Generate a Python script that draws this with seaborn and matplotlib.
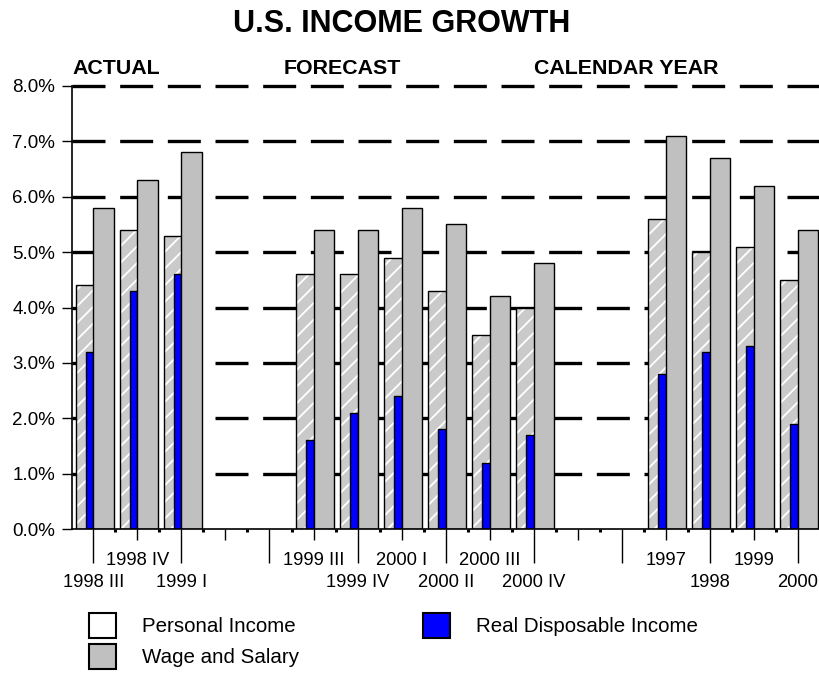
import numpy as np
import pandas as pd
import matplotlib
matplotlib.use("Agg")
import matplotlib.pyplot as plt
import seaborn as sns
from matplotlib.patches import Patch

# ---------------- data ----------------
actual_periods = ["1998 III", "1998 IV", "1999 I"]
forecast_periods = ["1999 III", "1999 IV", "2000 I", "2000 II", "2000 III", "2000 IV"]
calendar_years = ["1997", "1998", "1999", "2000"]
section_titles = ["ACTUAL", "FORECAST", "CALENDAR YEAR"]

personal_income = [4.4, 5.4, 5.3, 4.6, 4.6, 4.9, 4.3, 3.5, 4.0, 5.6, 5.0, 5.1, 4.5]
real_disposable_income = [3.2, 4.3, 4.6, 1.6, 2.1, 2.4, 1.8, 1.2, 1.7, 2.8, 3.2, 3.3, 1.9]
wage_and_salary = [5.8, 6.3, 6.8, 5.4, 5.4, 5.8, 5.5, 4.2, 4.8, 7.1, 6.7, 6.2, 5.4]

y_ticks = [0, 1, 2, 3, 4, 5, 6, 7, 8]
title = "U.S. INCOME GROWTH"
series_names = ["Personal Income", "Wage and Salary", "Real Disposable Income"]

# ---------------- layout helpers ----------------
GAP = 2  # empty slots between sections
slot_labels = []
for i, grp in enumerate([actual_periods, forecast_periods, calendar_years]):
    if i:
        slot_labels += [""] * GAP
    slot_labels += grp
slots = np.arange(len(slot_labels))
data_slots = np.array([s for s, lab in zip(slots, slot_labels) if lab], dtype=float)

df = pd.DataFrame({
    "slot": data_slots,
    "pi": personal_income,
    "rdi": real_disposable_income,
    "ws": wage_and_salary,
})

W_WIDE = 0.46
W_NARROW = 0.175
PI_LEFT = -0.397

plt.rcParams["hatch.linewidth"] = 1.3
fig = plt.figure(figsize=(8.2, 6.73), dpi=100)
plt.rcParams["font.family"] = ["Liberation Sans", "DejaVu Sans"]
FW, FH = 820, 673
ax = fig.add_axes([72 / FW, (FH - 529) / FH, (FW - 72) / FW, (529 - 86) / FH])

GRAY = "#c0c0c0"
HATCH_BG = "#cacaca"

# Personal income: hatched fill, then outline
sns.barplot(x=df["slot"] + PI_LEFT + W_WIDE / 2, y=df["pi"], native_scale=True,
            width=W_WIDE, color=HATCH_BG, saturation=1, errorbar=None,
            edgecolor="white", linewidth=0, hatch="//", ax=ax)
sns.barplot(x=df["slot"] + PI_LEFT + W_WIDE / 2, y=df["pi"], native_scale=True,
            width=W_WIDE, color="black", fill=False, saturation=1, errorbar=None,
            linewidth=1.0, ax=ax)
# Real disposable income
sns.barplot(x=df["slot"] - W_NARROW / 2, y=df["rdi"], native_scale=True,
            width=W_NARROW, color="#0000ff", saturation=1, errorbar=None,
            edgecolor="black", linewidth=1.0, ax=ax)
# Wage and salary
sns.barplot(x=df["slot"] + W_WIDE / 2, y=df["ws"], native_scale=True,
            width=W_WIDE, color=GRAY, saturation=1, errorbar=None,
            edgecolor="black", linewidth=1.0, ax=ax)

ax.set_xlim(-0.484, len(slot_labels) - 0.5)
ax.set_ylim(0, y_ticks[-1])
ax.set_xlabel("")
ax.set_ylabel("")
ax.set_facecolor("none")

# dashed horizontal grid
for yv in y_ticks[1:]:
    ax.axhline(yv, color="black", lw=2.4, ls=(0, (9.9, 4.4)), zorder=0.5, clip_on=False)

# y axis
ax.set_yticks(y_ticks, labels=[f"{v:.1f}%" for v in y_ticks])
ax.tick_params(axis="y", length=7.2, width=1.0, pad=5, labelsize=13.5, colors="black")

# x axis: staggered labels
ax.set_xticks(slots[::2], labels=slot_labels[::2])
ax.set_xticks(slots[1::2], labels=slot_labels[1::2], minor=True)
ax.tick_params(axis="x", which="major", length=24.5, width=1.0, pad=7.9, labelsize=13.2)
ax.tick_params(axis="x", which="minor", length=7.9, width=1.0, pad=8.6, labelsize=13.2)

sec = ax.secondary_xaxis("bottom")
sec.set_xticks(slots[:-1] + 0.5)
sec.tick_params(length=2.4, width=2.2, labelbottom=False)
sec.spines["bottom"].set_visible(False)

for s in ["top", "right"]:
    ax.spines[s].set_visible(False)
for s in ["left", "bottom"]:
    ax.spines[s].set_linewidth(1.2)

# titles
fig.text(401.5 / FW, 1 - 32 / FH, title, ha="center", va="baseline",
         fontsize=22, fontweight="bold")
for txt, xc in zip(section_titles, [116, 342.5, 626]):
    fig.text(xc / FW, 1 - 74 / FH, txt, ha="center", va="baseline",
             fontsize=15.4, fontweight="bold")

# legend
handles = [
    Patch(facecolor="white", edgecolor="black", linewidth=1.5, label=series_names[0]),
    Patch(facecolor=GRAY, edgecolor="black", linewidth=1.5, label=series_names[1]),
    Patch(facecolor="#0000ff", edgecolor="black", linewidth=1.5, label=series_names[2]),
]
fig.legend(handles=handles, ncol=2, loc="upper left",
           bbox_to_anchor=(89 / FW, 1 - 613 / FH), frameon=False,
           fontsize=14.8, handlelength=1.32, handleheight=1.49,
           handletextpad=1.25, columnspacing=6.05, labelspacing=0.3,
           borderpad=0, borderaxespad=0)

fig.savefig("out.png", dpi=100, facecolor="white")
